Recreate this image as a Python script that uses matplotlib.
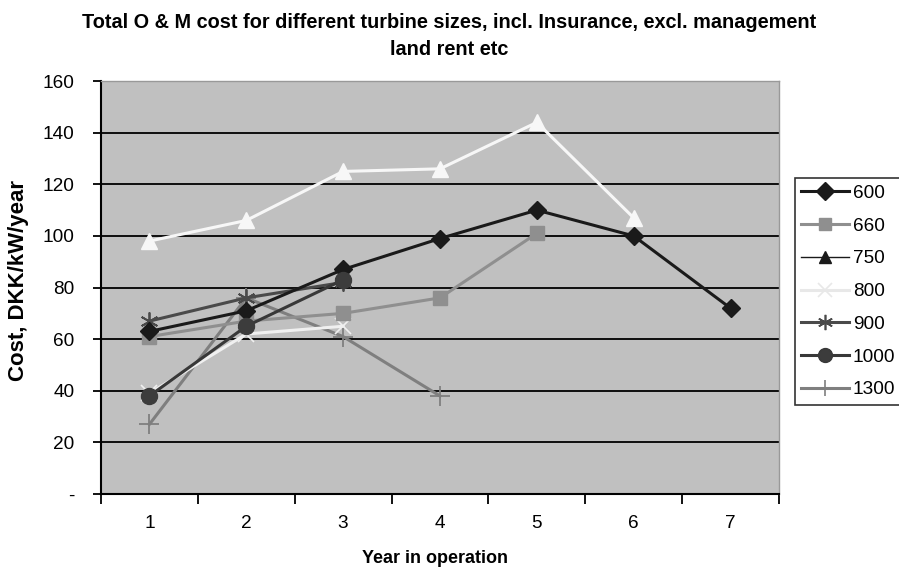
import matplotlib
matplotlib.use('Agg')
import matplotlib.pyplot as plt
from matplotlib.lines import Line2D

plt.rcParams['font.family'] = ['Liberation Sans', 'DejaVu Sans']

years = [1, 2, 3, 4, 5, 6, 7]
cost_600 = [63, 71, 87, 99, 110, 100, 72]
cost_660 = [61, 67, 70, 76, 101]
cost_750 = [98, 106, 125, 126, 144, 107]
cost_800 = [39, 62, 65]
cost_900 = [67, 76, 82]
cost_1000 = [38, 65, 83]
cost_1300 = [27, 76, 61, 38]

y_ticks = [0, 20, 40, 60, 80, 100, 120, 140, 160]
y_labels = ['-', '20', '40', '60', '80', '100', '120', '140', '160']

fig = plt.figure(figsize=(8.99, 5.67), dpi=100)
ax = fig.add_axes([0.1123, 0.1287, 0.7542, 0.7283])
ax.set_facecolor('#c0c0c0')

ax.plot(years[:len(cost_750)], cost_750, color='#f7f7f7', lw=2.2, marker='^', ms=11, mfc='#f7f7f7', mec='#f7f7f7', zorder=3)
ax.plot(years[:len(cost_1300)], cost_1300, color='#7f7f7f', lw=2.2, marker='+', ms=14, mew=1.3, zorder=3)
ax.plot(years[:len(cost_800)], cost_800, color='#f0f0f0', lw=2.2, marker='x', ms=11, mew=1.2, zorder=3)
ax.plot(years[:len(cost_660)], cost_660, color='#8f8f8f', lw=2.2, marker='s', ms=9.5, mfc='#8f8f8f', mec='#8f8f8f', zorder=3)
ax.plot(years[:len(cost_900)], cost_900, color='#4a4a4a', lw=2.2, marker=(6, 2, 0), ms=13, mew=1.3, zorder=3)
ax.plot(years[:len(cost_600)], cost_600, color='#1a1a1a', lw=2.2, marker='D', ms=9.5, mfc='#1a1a1a', mec='#1a1a1a', zorder=4)
ax.plot(years[:len(cost_1000)], cost_1000, color='#383838', lw=2.2, marker='o', ms=11.5, mfc='#3c3c3c', mec='#3c3c3c', zorder=4)

ax.set_xlim(0.5, 7.5)
ax.set_ylim(0, 160)
ax.set_yticks(y_ticks)
ax.set_yticklabels(y_labels)
ax.yaxis.grid(True, color='black', lw=1.3)
ax.set_axisbelow(True)

ax.set_xticks([x + 0.5 for x in [0] + years])
ax.set_xticks(years, minor=True)
ax.set_xticklabels([])
ax.set_xticklabels([str(y) for y in years], minor=True)
ax.tick_params(axis='x', which='major', direction='out', length=7, width=1.3)
ax.tick_params(axis='x', which='minor', length=0, pad=15, labelsize=13.7)
ax.tick_params(axis='y', direction='out', length=6, width=1.3, labelsize=13.7, pad=13)

for side in ['top', 'right']:
    ax.spines[side].set_color('#999999')
    ax.spines[side].set_linewidth(1)
for side in ['left', 'bottom']:
    ax.spines[side].set_color('black')
    ax.spines[side].set_linewidth(1.5)

ax.set_xlabel('Year in operation', fontsize=13, fontweight='bold', va='center')
ax.xaxis.set_label_coords(0.4926, -0.155)
ax.set_ylabel('Cost, DKK/kW/year', fontsize=16, fontweight='bold', va='center')
ax.yaxis.set_label_coords(-0.122, 0.518)
fig.text(0.5, 0.961, 'Total O & M cost for different turbine sizes, incl. Insurance, excl. management',
         ha='center', va='center', fontsize=14.3, fontweight='bold')
fig.text(0.5, 0.912, 'land rent etc', ha='center', va='center', fontsize=14.3, fontweight='bold')

handles = [
    Line2D([], [], color='#1a1a1a', lw=2.2, marker='D', ms=9, mfc='#1a1a1a'),
    Line2D([], [], color='#8f8f8f', lw=2.2, marker='s', ms=9, mfc='#8f8f8f', mec='#8f8f8f'),
    Line2D([], [], color='#1a1a1a', lw=1, marker='^', ms=9, mfc='#1a1a1a'),
    Line2D([], [], color='#e8e8e8', lw=2.2, marker='x', ms=10, mew=1.2),
    Line2D([], [], color='#4a4a4a', lw=2.2, marker=(6, 2, 0), ms=11, mew=1.2),
    Line2D([], [], color='#383838', lw=2.2, marker='o', ms=10, mfc='#3c3c3c'),
    Line2D([], [], color='#7f7f7f', lw=2.2, marker='+', ms=12, mew=1.2),
]
labels = ['600', '660', '750', '800', '900', '1000', '1300']
leg = fig.legend(handles, labels, loc='upper left', bbox_to_anchor=(0.884, 0.686),
                 fontsize=13.7, frameon=True, fancybox=False, edgecolor='black',
                 handlelength=2.5, handletextpad=0.2, labelspacing=0.81, borderpad=0.35,
                 borderaxespad=0)
leg.get_frame().set_linewidth(1.2)

fig.savefig('out.png', dpi=100, facecolor='white')
